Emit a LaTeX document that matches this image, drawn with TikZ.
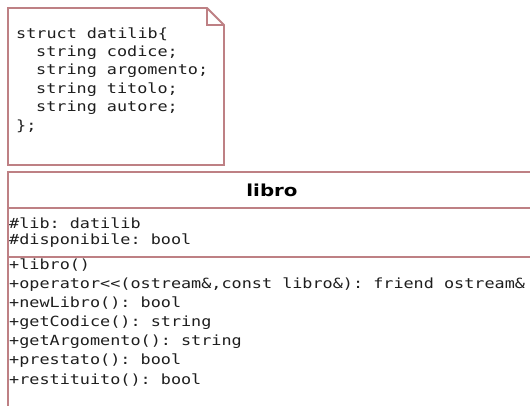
\documentclass[tikz,border=0pt]{standalone}
\usepackage{fontspec}
\setmonofont[FakeStretch=1.2]{DejaVu Sans Mono}
\newfontfamily\titlefont[FakeStretch=1.2]{DejaVu Sans}
\definecolor{umlred}{RGB}{190,128,132}
\definecolor{codegray}{RGB}{30,30,30}

\begin{document}
\begin{tikzpicture}[
    x=1pt, y=-1pt,
    font=\ttfamily\fontsize{14}{18.6}\selectfont,
    uml line/.style={draw=umlred, line width=1.8pt},
    code line/.style={anchor=west, inner sep=0pt, text=codegray},
    class title/.style={font=\titlefont\bfseries\fontsize{16.5}{19}\selectfont, text=black},
]

\useasboundingbox (0,0) rectangle (530,406);
\clip (0,0) rectangle (530,406);

% Nota con l'angolo piegato
\draw[uml line, fill=white] (8,8) -- (207,8) -- (224,25) -- (224,165) -- (8,165) -- cycle;
\draw[uml line] (207,8) -- (207,25) -- (224,25);

% Righe della struct (rientro/testo)
\def\structdata{
    0/struct datilib\{,
    20/string codice;,
    20/string argomento;,
    20/string titolo;,
    20/string autore;,
    0/\};
}
\foreach \dx/\txt [count=\i from 0] in \structdata {
    \node[code line] (nota-\i) at ({16+\dx}, {34+18.4*\i}) {\txt};
}

% Classe libro: bordo e separatori
\draw[uml line] (8,172) rectangle (560,430);
\draw[uml line] (8,208) -- (560,208);
\draw[uml line] (8,257) -- (560,257);

\node[class title] (titolo) at (272,190) {libro};

% Attributi
\node[code line] (attr-1) at (9,223) {\#lib: datilib};
\node[code line] (attr-2) at (9,241) {\#disponibile: bool};

% Metodi
\def\metodidata{
    +libro(),
    {+operator<<(ostream\&,const libro\&): friend ostream\&},
    +newLibro(): bool,
    +getCodice(): string,
    +getArgomento(): string,
    +prestato(): bool,
    +restituito(): bool
}
\foreach \txt [count=\i from 0] in \metodidata {
    \node[code line] (met-\i) at (9, {265+19.1*\i}) {\txt};
}

\end{tikzpicture}
\end{document}
